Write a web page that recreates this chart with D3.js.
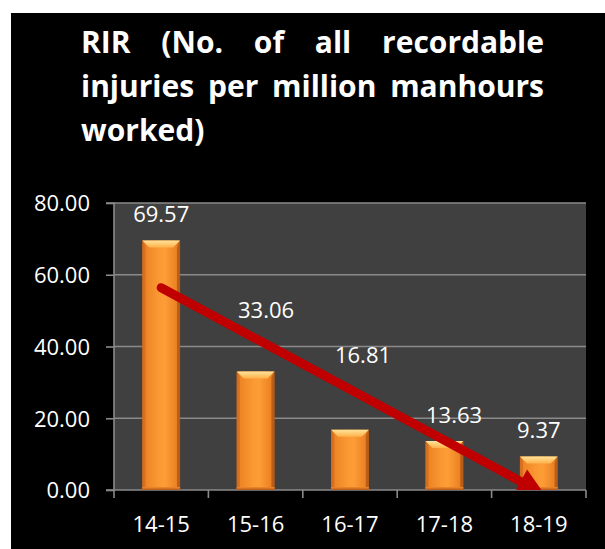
<!DOCTYPE html>
<html>
<head>
<meta charset="utf-8">
<script src="https://cdn.jsdelivr.net/npm/d3@7/dist/d3.min.js"></script>
<style>
  html, body { margin: 0; padding: 0; background: #ffffff; }
  svg { display: block; }
</style>
</head>
<body>
<svg id="chart" width="605" height="549"></svg>
<script>
// ---- data ----
const titleText = "RIR (No. of all recordable injuries per million manhours worked)";
const categories = ["14-15", "15-16", "16-17", "17-18", "18-19"];
const values = [69.57, 33.06, 16.81, 13.63, 9.37];
const yTicks = [0, 20, 40, 60, 80];
// trend arrow: [category index, value]
const trendStart = [0, 56.4];
const trendEnd = [4.06, -1.2];

// ---- drawing ----
const svg = d3.select("#chart");
const W = 605, H = 549;
const plot = { left: 114, right: 586, top: 203, bottom: 490 };
const font = "'Open Sans', 'Noto Sans', sans-serif";

svg.append("rect").attr("x", 0).attr("y", 0).attr("width", W).attr("height", H).attr("fill", "#ffffff");
svg.append("rect").attr("x", 11).attr("y", 13).attr("width", W - 11).attr("height", H - 13).attr("fill", "#000000");

const defs = svg.append("defs");
const g1 = defs.append("linearGradient").attr("id", "barGrad").attr("x1", "0").attr("x2", "1").attr("y1", "0").attr("y2", "0");
[["0%", "#c9651a"], ["10%", "#ee8526"], ["45%", "#fb9a34"], ["60%", "#fd9d36"], ["90%", "#ec8224"], ["100%", "#b95c16"]]
  .forEach(([o, c]) => g1.append("stop").attr("offset", o).attr("stop-color", c));
const g2 = defs.append("linearGradient").attr("id", "bevelGrad").attr("x1", "0").attr("x2", "0").attr("y1", "0").attr("y2", "1");
[["0%", "#ffe39a"], ["100%", "#ffb24a"]].forEach(([o, c]) => g2.append("stop").attr("offset", o).attr("stop-color", c));
const g3 = defs.append("linearGradient").attr("id", "bottomGrad").attr("x1", "0").attr("x2", "0").attr("y1", "0").attr("y2", "1");
[["0%", "#f08a2a"], ["100%", "#b9591a"]].forEach(([o, c]) => g3.append("stop").attr("offset", o).attr("stop-color", c));
defs.append("clipPath").attr("id", "plotClip").append("rect")
  .attr("x", plot.left).attr("y", plot.top).attr("width", plot.right - plot.left).attr("height", plot.bottom - plot.top);

const x = d3.scaleBand().domain(categories).range([plot.left, plot.right]).paddingInner(0).paddingOuter(0);
const xi = d3.scaleLinear().domain([0, categories.length - 1])
  .range([x(categories[0]) + x.bandwidth() / 2, x(categories[categories.length - 1]) + x.bandwidth() / 2]);
const y = d3.scaleLinear().domain([0, 80]).range([plot.bottom, plot.top]);

// plot background
svg.append("rect").attr("x", plot.left).attr("y", plot.top)
  .attr("width", plot.right - plot.left).attr("height", plot.bottom - plot.top).attr("fill", "#404040");

// gridlines
svg.append("g").selectAll("line").data(yTicks.filter(d => d > 0)).join("line")
  .attr("x1", plot.left).attr("x2", plot.right)
  .attr("y1", d => y(d)).attr("y2", d => y(d))
  .attr("stroke", "#8a8a8a").attr("stroke-width", 1.6);

// y axis
const yAxis = d3.axisLeft(y).tickValues(yTicks).tickSize(8).tickPadding(16).tickFormat(d3.format(".2f"));
const yg = svg.append("g").attr("transform", `translate(${plot.left},0)`).call(yAxis);
yg.select(".domain").attr("stroke", "#8a8a8a").attr("stroke-width", 1.6).attr("d", `M-8,${plot.top}H0V${plot.bottom}H-8`);
yg.selectAll(".tick line").attr("stroke", "#8a8a8a").attr("stroke-width", 1.6);
yg.selectAll(".tick text").attr("fill", "#ffffff").attr("font-family", font).attr("font-size", 22).attr("dy", "0.36em");

// x axis
const xAxis = d3.axisBottom(x).tickSize(0).tickPadding(26);
const xg = svg.append("g").attr("transform", `translate(0,${plot.bottom})`).call(xAxis);
xg.select(".domain").remove();
xg.selectAll(".tick text").attr("fill", "#ffffff").attr("font-family", font).attr("font-size", 22);
xg.append("line").attr("x1", plot.left).attr("x2", plot.right).attr("y1", 0).attr("y2", 0)
  .attr("stroke", "#8a8a8a").attr("stroke-width", 1.6);
xg.selectAll("line.b").data(d3.range(categories.length + 1)).join("line").attr("class", "b")
  .attr("x1", i => plot.left + i * x.bandwidth()).attr("x2", i => plot.left + i * x.bandwidth())
  .attr("y1", 0).attr("y2", 8).attr("stroke", "#8a8a8a").attr("stroke-width", 1.6);

// bars
const bw = x.bandwidth() * 0.4;
const bars = svg.append("g").selectAll("g").data(values).join("g")
  .attr("transform", (d, i) => `translate(${x(categories[i]) + (x.bandwidth() - bw) / 2},0)`);
bars.append("rect").attr("x", 0).attr("y", d => y(d)).attr("width", bw).attr("height", d => y(0) - y(d))
  .attr("fill", "url(#barGrad)");
bars.append("path").attr("d", d => {
  const t = y(d), b = 7;
  return `M0,${t}H${bw}L${bw - b},${t + b}H${b}Z`;
}).attr("fill", "url(#bevelGrad)");
bars.append("path").attr("d", d => {
  const t = y(d), s = 3;
  return `M0,${t}L${s},${t + 7}V${y(0) - 3}L0,${y(0)}Z`;
}).attr("fill", "#d46f1e").attr("opacity", 0.8);
bars.append("path").attr("d", d => {
  const t = y(d), s = 3;
  return `M${bw},${t}L${bw - s},${t + 7}V${y(0) - 3}L${bw},${y(0)}Z`;
}).attr("fill", "#b45a16").attr("opacity", 0.8);
bars.append("rect").attr("x", 0).attr("y", y(0) - 3).attr("width", bw).attr("height", 3).attr("fill", "url(#bottomGrad)");

// trend arrow (clipped to plot area)
const ax0 = xi(trendStart[0]), ay0 = y(trendStart[1]);
const ax1 = xi(trendEnd[0]), ay1 = y(trendEnd[1]);
const len = Math.hypot(ax1 - ax0, ay1 - ay0);
const ux = (ax1 - ax0) / len, uy = (ay1 - ay0) / len;
const headL = 27, headW = 13.5;
const bx = ax1 - headL * ux, by = ay1 - headL * uy;
const arrow = svg.append("g").attr("clip-path", "url(#plotClip)");
arrow.append("line").attr("x1", ax0).attr("y1", ay0).attr("x2", bx + ux * 2).attr("y2", by + uy * 2)
  .attr("stroke", "#c00000").attr("stroke-width", 9).attr("stroke-linecap", "round");
arrow.append("path")
  .attr("d", `M${ax1},${ay1}L${bx - uy * headW},${by + ux * headW}L${bx + uy * headW},${by - ux * headW}Z`)
  .attr("fill", "#c00000");

// data labels (manually placed as in the original)
const labelBaseAt = [74.8, 48.0, 35.4, 18.7, 14.5];
const labelDx = [0, 10.5, 13, 9.7, 0];
svg.append("g").selectAll("text").data(values).join("text")
  .attr("x", (d, i) => x(categories[i]) + x.bandwidth() / 2 + labelDx[i])
  .attr("y", (d, i) => y(labelBaseAt[i]))
  .attr("text-anchor", "middle").attr("fill", "#ffffff")
  .attr("font-family", font).attr("font-size", 22)
  .text(d => d.toFixed(2));

// justified title
const titleLines = [
  { words: ["RIR", "(No.", "of", "all", "recordable"], justify: true },
  { words: ["injuries", "per", "million", "manhours"], justify: true },
  { words: ["worked)"], justify: false }
];
const tx0 = 81, tx1 = 544, tBase = 53, tLead = 44;
const tg = svg.append("g").attr("font-family", font).attr("font-weight", "bold").attr("font-size", 30).attr("fill", "#ffffff");
titleLines.forEach((ln, li) => {
  const texts = ln.words.map(w => tg.append("text").attr("y", tBase + li * tLead).text(w));
  const widths = texts.map(t => t.node().getComputedTextLength());
  const total = d3.sum(widths);
  const gap = ln.justify && ln.words.length > 1 ? (tx1 - tx0 - total) / (ln.words.length - 1) : 8;
  let cx = tx0;
  texts.forEach((t, i) => { t.attr("x", cx); cx += widths[i] + gap; });
});
</script>
</body>
</html>
